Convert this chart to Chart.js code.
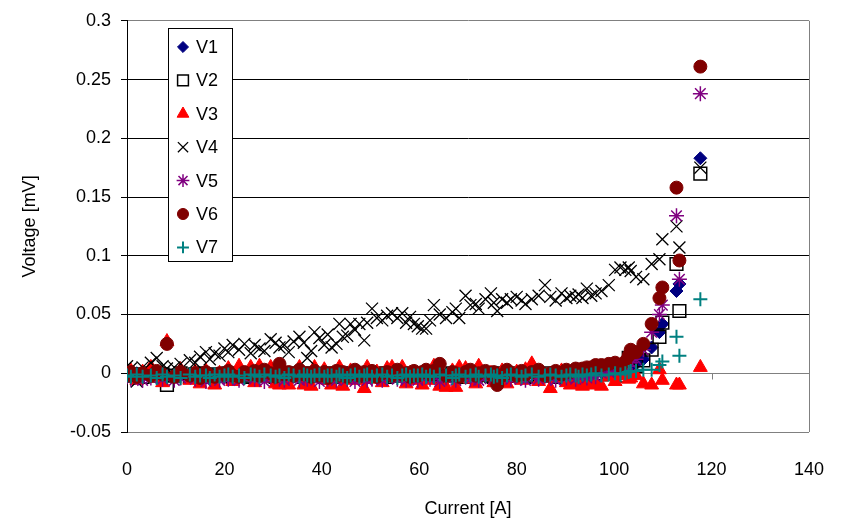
<!DOCTYPE html>
<html>
<head>
<meta charset="utf-8">
<title>Voltage vs Current</title>
<script src="https://cdn.jsdelivr.net/npm/chart.js@4.4.1/dist/chart.umd.min.js"></script>
<style>
  html, body { margin: 0; padding: 0; background: #fff; }
  #chart { display: block; }
</style>
</head>
<body>
<canvas id="chart" width="843" height="522"></canvas>
<script>
/* ── Data ──────────────────────────────────────── */
const current = [
  0, 0.8, 2.0, 3.2, 4.9, 6.1, 7.3, 8.2, 9.7, 11.0,
  12.9, 14.0, 15.0, 16.2, 17.0, 18.0, 19.0, 20.0, 20.8, 21.7,
  23.0, 24.1, 25.4, 26.2, 27.2, 28.2, 29.5, 30.5, 31.3, 32.3,
  33.2, 34.2, 35.4, 36.3, 37.0, 37.8, 38.5, 39.5, 40.5, 41.2,
  42.0, 43.0, 43.6, 44.3, 45.2, 45.9, 46.8, 47.7, 48.7, 49.3,
  50.3, 51.3, 52.4, 53.4, 54.4, 55.5, 56.5, 57.3, 58.1, 58.9,
  59.7, 60.6, 61.4, 62.2, 63.0, 64.2, 65.5, 66.8, 67.5, 68.2,
  69.5, 70.5, 71.6, 72.2, 73.6, 74.7, 75.3, 76.0, 77.0, 78.0,
  78.8, 80.0, 81.0, 81.8, 83.1, 84.5, 85.8, 86.9, 88.0, 89.2,
  90.2, 91.0, 92.1, 92.7, 93.5, 94.4, 95.3, 96.2, 97.4, 98.9,
  100.2, 101.3, 102.3, 103.0, 103.4, 104.5, 106.0, 107.7, 109.3, 109.9,
  112.8, 113.4, 117.7
];

const v1 = [
  -0.001, -0.002, 0.000, -0.003, -0.001, 0.001, -0.002, -0.001, -0.003, 0.000,
  -0.002, -0.001, -0.003, 0.000, -0.002, -0.001, -0.002, 0.000, -0.003, -0.001,
  -0.002, 0.000, -0.001, -0.003, -0.002, -0.001, 0.000, -0.002, -0.003, -0.001,
  -0.001, -0.003, -0.002, 0.000, -0.001, -0.002, -0.003, -0.001, 0.000, -0.002,
  -0.003, -0.001, -0.002, -0.002, 0.000, -0.001, -0.003, -0.002, -0.001, 0.000,
  -0.002, -0.003, -0.001, 0.000, -0.002, -0.001, -0.002, -0.003, -0.001, -0.002,
  0.000, -0.002, -0.001, -0.003, -0.002, 0.000, -0.001, -0.002, -0.003, -0.001,
  -0.002, -0.001, 0.000, -0.002, -0.003, -0.001, -0.002, 0.000, -0.001, -0.003,
  -0.001, -0.002, -0.003, -0.001, 0.000, -0.002, -0.001, -0.003, -0.002, 0.000,
  -0.001, 0.000, -0.002, -0.001, 0.000, 0.001, -0.001, 0.000, 0.001, 0.001,
  0.001, 0.002, 0.003, 0.004, 0.006, 0.008, 0.012, 0.022, 0.035, 0.042,
  0.070, 0.076, 0.183
];

const v2 = [
  0.000, -0.002, -0.001, -0.003, 0.000, -0.002, -0.001, -0.010, -0.002, 0.000,
  -0.003, -0.001, 0.000, -0.002, -0.003, -0.001, -0.002, -0.001, 0.000, -0.003,
  -0.001, -0.002, -0.003, 0.000, -0.001, -0.002, -0.001, -0.003, 0.000, -0.002,
  -0.002, 0.000, -0.001, -0.003, -0.002, 0.000, -0.001, -0.002, -0.003, -0.001,
  0.000, -0.002, -0.003, -0.001, -0.002, 0.000, -0.002, -0.001, -0.003, -0.002,
  -0.001, 0.000, -0.002, -0.003, -0.001, -0.002, 0.000, -0.001, -0.002, -0.003,
  -0.002, -0.001, 0.000, -0.002, -0.001, -0.003, -0.002, 0.000, -0.001, -0.002,
  -0.003, -0.001, -0.002, 0.000, -0.001, -0.002, -0.003, -0.001, 0.000, -0.002,
  -0.002, 0.000, -0.001, -0.003, -0.002, -0.001, 0.000, -0.002, -0.003, -0.001,
  -0.002, -0.001, 0.000, -0.002, -0.001, 0.000, -0.001, 0.000, -0.001, 0.000,
  0.000, 0.001, -0.002, 0.013, 0.004, 0.006, 0.011, 0.020, 0.031, 0.043,
  0.093, 0.053, 0.170
];

const v3 = [
  -0.003, 0.002, -0.006, 0.001, 0.005, -0.004, -0.008, 0.027, -0.002, 0.003,
  -0.006, 0.001, -0.009, 0.002, -0.004, -0.010, 0.000, -0.003, 0.004, -0.007,
  0.006, -0.002, 0.005, -0.008, 0.006, -0.004, 0.005, -0.009, -0.010, 0.002,
  -0.010, -0.003, 0.005, -0.010, -0.007, -0.011, 0.005, -0.002, 0.003, -0.006,
  -0.010, 0.001, 0.005, -0.011, -0.004, 0.002, -0.006, 0.000, -0.013, 0.005,
  -0.005, 0.001, -0.008, 0.004, 0.005, -0.003, 0.005, -0.009, 0.000, -0.006,
  -0.004, -0.010, 0.001, -0.006, 0.006, -0.011, -0.012, 0.002, -0.012, 0.005,
  0.004, -0.005, -0.009, 0.006, -0.003, 0.000, -0.008, -0.005, 0.002, -0.009,
  -0.004, 0.001, -0.006, 0.003, 0.008, -0.007, -0.002, -0.013, -0.004, 0.002,
  -0.008, -0.010, -0.004, -0.009, -0.011, -0.006, -0.010, -0.009, -0.011, -0.003,
  -0.007, -0.002, 0.001, -0.005, -0.004, -0.002, -0.009, -0.010, 0.003, -0.006,
  -0.010, -0.010, 0.005
];

const v4 = [
  0.006, 0.004, -0.007, 0.005, 0.009, 0.013, 0.006, 0.004, 0.005, 0.008,
  0.011, 0.009, 0.014, 0.018, 0.012, 0.017, 0.015, 0.021, 0.018, 0.024,
  0.020, 0.025, 0.017, 0.024, 0.021, 0.019, 0.029, 0.026, 0.022, 0.024,
  0.018, 0.027, 0.031, 0.026, 0.013, 0.019, 0.035, 0.030, 0.024, 0.033,
  0.022, 0.025, 0.042, 0.031, 0.032, 0.042, 0.037, 0.042, 0.028, 0.043,
  0.055, 0.047, 0.045, 0.049, 0.051, 0.047, 0.051, 0.043, 0.048, 0.042,
  0.040, 0.038, 0.038, 0.045, 0.058, 0.050, 0.047, 0.052, 0.055, 0.047,
  0.066, 0.058, 0.059, 0.055, 0.063, 0.068, 0.060, 0.053, 0.063, 0.060,
  0.063, 0.065, 0.062, 0.059, 0.063, 0.066, 0.075, 0.065, 0.062, 0.068,
  0.064, 0.066, 0.065, 0.067, 0.064, 0.072, 0.066, 0.068, 0.070, 0.075,
  0.088, 0.090, 0.088, 0.090, 0.087, 0.082, 0.080, 0.093, 0.097, 0.114,
  0.125, 0.107, 0.175
];

const v5 = [
  -0.003, -0.005, -0.002, -0.006, -0.004, -0.002, -0.005, -0.003, -0.006, -0.004,
  -0.002, -0.005, -0.003, -0.007, -0.004, -0.002, -0.006, -0.003, -0.005, -0.004,
  -0.006, -0.003, -0.002, -0.005, -0.004, -0.007, -0.003, -0.002, -0.005, -0.006,
  -0.004, -0.002, -0.006, -0.003, -0.005, -0.004, -0.002, -0.007, -0.003, -0.005,
  -0.003, -0.006, -0.004, -0.002, -0.005, -0.003, -0.007, -0.004, -0.002, -0.006,
  -0.005, -0.003, -0.006, -0.004, -0.002, -0.005, -0.003, -0.006, -0.004, -0.002,
  -0.006, -0.004, -0.002, -0.005, -0.003, -0.007, -0.004, -0.002, -0.006, -0.003,
  -0.002, -0.005, -0.004, -0.006, -0.003, -0.002, -0.005, -0.007, -0.004, -0.003,
  -0.005, -0.002, -0.004, -0.006, -0.003, -0.005, -0.002, -0.004, -0.006, -0.003,
  -0.004, -0.002, -0.005, -0.003, -0.002, -0.004, -0.001, -0.003, 0.000, 0.001,
  0.002, 0.003, 0.004, 0.006, 0.009, 0.012, 0.020, 0.035, 0.050, 0.058,
  0.134, 0.080, 0.238
];

const v6 = [
  -0.002, 0.001, -0.003, 0.000, -0.002, 0.002, -0.001, 0.025, -0.003, 0.001,
  -0.002, 0.000, -0.004, 0.001, -0.002, -0.003, 0.000, -0.001, 0.002, -0.002,
  -0.003, 0.001, -0.001, 0.002, -0.002, 0.003, 0.000, -0.003, 0.008, -0.001,
  0.001, -0.002, 0.003, -0.001, 0.000, -0.003, 0.002, -0.002, 0.001, -0.004,
  0.000, 0.002, -0.002, 0.001, -0.003, 0.000, 0.003, -0.002, 0.001, -0.001,
  0.002, -0.003, 0.000, 0.001, -0.002, 0.003, -0.001, 0.000, -0.003, 0.002,
  -0.002, 0.001, 0.003, -0.001, 0.002, 0.008, -0.002, 0.001, 0.000, -0.003,
  0.001, 0.003, -0.002, 0.000, 0.002, -0.001, 0.001, -0.010, -0.002, 0.003,
  0.000, -0.002, 0.002, -0.001, 0.001, 0.003, -0.002, 0.000, 0.002, -0.001,
  0.003, 0.001, 0.004, 0.002, 0.004, 0.005, 0.005, 0.007, 0.007, 0.008,
  0.009, 0.006, 0.010, 0.015, 0.020, 0.018, 0.025, 0.042, 0.064, 0.073,
  0.158, 0.096, 0.261
];

const v7 = [
  -0.002, -0.003, -0.001, -0.003, -0.002, -0.004, -0.001, -0.003, -0.002, -0.004,
  -0.001, -0.003, -0.002, -0.002, -0.004, -0.001, -0.003, -0.002, -0.001, -0.003,
  -0.002, -0.004, -0.001, -0.002, -0.003, -0.001, -0.002, -0.003, -0.002, -0.004,
  -0.001, -0.002, -0.003, -0.001, -0.002, -0.003, -0.002, -0.001, -0.003, -0.002,
  -0.002, -0.003, -0.001, -0.002, -0.004, -0.002, -0.001, -0.003, -0.002, -0.001,
  -0.003, -0.002, -0.001, -0.003, -0.002, -0.004, -0.002, -0.001, -0.003, -0.002,
  -0.002, -0.001, -0.003, -0.002, -0.003, -0.001, -0.002, -0.004, -0.002, -0.001,
  -0.003, -0.002, -0.001, -0.003, -0.002, -0.001, -0.003, -0.002, -0.004, -0.002,
  -0.001, -0.002, -0.003, -0.002, -0.001, -0.003, -0.002, -0.001, -0.002, -0.003,
  -0.002, -0.001, -0.002, -0.003, -0.001, -0.002, -0.001, 0.000, -0.002, -0.001,
  0.000, -0.001, 0.000, 0.001, 0.002, 0.002, 0.003, 0.003, 0.007, 0.010,
  0.031, 0.015, 0.063
];

const seriesNames = ['V1', 'V2', 'V3', 'V4', 'V5', 'V6', 'V7'];
const seriesValues = [v1, v2, v3, v4, v5, v6, v7];

/* ── Marker styles (Excel-like) ───────────────── */
const markers = [
  { pointStyle: 'rectRot',  radius: 6.5, fill: '#000080', stroke: '#000080', lw: 1 },
  { pointStyle: 'rect',     radius: 9,   fill: 'rgba(0,0,0,0)', stroke: '#000000', lw: 1.5 },
  { pointStyle: 'triangle', radius: 8,   fill: '#FF0000', stroke: '#FF0000', lw: 1 },
  { pointStyle: 'crossRot', radius: 8.5, fill: '#000000', stroke: '#000000', lw: 1.3 },
  { pointStyle: 'star',     radius: 7.5, fill: '#800080', stroke: '#800080', lw: 1.5 },
  { pointStyle: 'circle',   radius: 6.5, fill: '#800000', stroke: '#800000', lw: 1 },
  { pointStyle: 'cross',    radius: 7,   fill: '#008080', stroke: '#008080', lw: 2 }
];

const fontFamily = "Arial, 'Liberation Sans', sans-serif";
const gray = '#808080';

/* ── Plot frame + zero axis with tick marks ───── */
const framePlugin = {
  id: 'frame',
  beforeDatasetsDraw(chart) {
    const { ctx, chartArea: a, scales } = chart;
    const y0 = Math.round(scales.y.getPixelForValue(0)) + 0.5;
    ctx.save();
    ctx.strokeStyle = gray;
    ctx.lineWidth = 1;
    ctx.beginPath();
    ctx.moveTo(Math.round(a.right) + 0.5, a.top);
    ctx.lineTo(Math.round(a.right) + 0.5, a.bottom);
    ctx.stroke();
    ctx.beginPath();
    scales.x.ticks.forEach(t => {
      const px = Math.round(scales.x.getPixelForValue(t.value)) + 0.5;
      ctx.moveTo(px, y0);
      ctx.lineTo(px, y0 + 6);
    });
    ctx.stroke();
    ctx.restore();
  }
};

/* ── Boxed legend inside the plot ───────────── */
const boxLegendPlugin = {
  id: 'boxLegend',
  afterDraw(chart) {
    const ctx = chart.ctx;
    const box = { x: 168.5, y: 28.5, w: 64, h: 233 };
    ctx.save();
    ctx.fillStyle = '#fff';
    ctx.fillRect(box.x, box.y, box.w, box.h);
    ctx.strokeStyle = '#000';
    ctx.lineWidth = 1;
    ctx.strokeRect(box.x, box.y, box.w, box.h);
    ctx.font = '18px ' + fontFamily;
    ctx.textBaseline = 'middle';
    seriesNames.forEach((name, i) => {
      const m = markers[i];
      const cy = 47 + i * 33.4;
      ctx.fillStyle = m.fill;
      ctx.strokeStyle = m.stroke;
      ctx.lineWidth = m.lw;
      Chart.helpers.drawPoint(ctx, { pointStyle: m.pointStyle, radius: m.radius * 0.85, rotation: 0, borderWidth: m.lw }, 183, cy);
      ctx.fillStyle = '#000';
      ctx.fillText(name, 196, cy + 1);
    });
    ctx.restore();
  }
};

const datasets = seriesNames.map((name, i) => {
  const m = markers[i];
  return {
    label: name,
    data: current.map((x, k) => ({ x, y: seriesValues[i][k] })),
    pointStyle: m.pointStyle,
    pointRadius: m.radius,
    pointHoverRadius: m.radius,
    backgroundColor: m.fill,
    borderColor: m.stroke,
    borderWidth: m.lw,
    showLine: false,
    order: 7 - i   // V7 drawn on top, like Excel
  };
});

new Chart(document.getElementById('chart'), {
  type: 'scatter',
  data: { datasets },
  options: {
    responsive: false,
    animation: false,
    devicePixelRatio: 1,
    layout: { padding: { left: 0, right: 27, top: 19, bottom: 0 } },
    plugins: {
      legend: { display: false },
      tooltip: { enabled: false }
    },
    scales: {
      x: {
        type: 'linear',
        min: 0,
        max: 140,
        ticks: { stepSize: 20, padding: 19, color: '#000', font: { family: fontFamily, size: 18 } },
        grid: { display: false },
        border: { display: true, color: gray, width: 1 },
        title: {
          display: true,
          text: 'Current [A]',
          color: '#000',
          font: { family: fontFamily, size: 18 },
          padding: { top: 0, bottom: 2 }
        },
        afterFit: s => { s.height = 90; }
      },
      y: {
        type: 'linear',
        min: -0.05,
        max: 0.3,
        ticks: {
          stepSize: 0.05,
          padding: 10,
          color: '#000',
          font: { family: fontFamily, size: 18 },
          callback: v => String(Number(v.toFixed(2)))
        },
        grid: {
          color: c => {
            const v = c.tick ? c.tick.value : 1;
            return (Math.abs(v) < 1e-9 || Math.abs(v - 0.3) < 1e-9 || Math.abs(v + 0.05) < 1e-9) ? gray : '#000';
          },
          tickColor: '#000',
          tickLength: 6,
          lineWidth: 1
        },
        border: { display: true, color: '#000', width: 1 },
        title: {
          display: true,
          text: 'Voltage [mV]',
          color: '#000',
          font: { family: fontFamily, size: 18 },
          padding: { top: 19, bottom: 0 }
        },
        afterFit: s => { s.width = 127; }
      }
    }
  },
  plugins: [framePlugin, boxLegendPlugin]
});
</script>
</body>
</html>
